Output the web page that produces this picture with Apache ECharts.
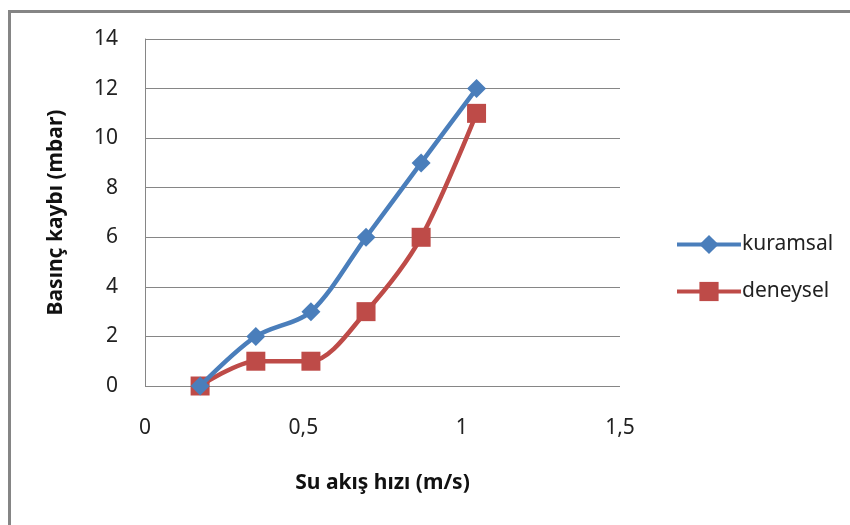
<!DOCTYPE html>
<html>
<head>
<meta charset="utf-8">
<script src="https://cdn.jsdelivr.net/npm/echarts@6/dist/echarts.min.js"></script>
<style>html,body{margin:0;padding:0;background:#fff;}#c{width:850px;height:525px;}</style>
</head>
<body>
<div id="c"></div>
<script>
var velocities = [0.174, 0.350, 0.524, 0.698, 0.872, 1.047];
var kuramsal = [0, 2, 3, 6, 9, 12];
var deneysel = [0, 1, 1, 3, 6, 11];
var seriesNames = ['kuramsal', 'deneysel'];
var xTitle = 'Su akış hızı (m/s)';
var yTitle = 'Basınç kaybı (mbar)';

function pairs(ys) { return velocities.map(function (x, i) { return [x, ys[i]]; }); }
var FONT = 'Noto Sans';
var chart = echarts.init(document.getElementById('c'), null, { renderer: 'canvas' });
chart.setOption({
  backgroundColor: '#ffffff',
  animation: false,
  textStyle: { fontFamily: FONT },
  graphic: [{
    type: 'rect', left: 7, top: 9, z: 100, silent: true,
    shape: { width: 900, height: 600 },
    style: { fill: 'none', stroke: '#858585', lineWidth: 3 }
  }],
  grid: { left: 145, right: 230, top: 39, bottom: 139, containLabel: false },
  legend: {
    orient: 'vertical', left: 670, top: 229, itemGap: 26,
    itemWidth: 64, itemHeight: 24,
    lineStyle: { width: 4 },
    textStyle: { fontFamily: FONT, fontSize: 21, color: '#222', padding: [0, 0, 0, -4] },
    data: seriesNames
  },
  xAxis: {
    type: 'value', min: 0, max: 1.5, interval: 0.5,
    name: xTitle, nameLocation: 'middle', nameGap: 87,
    nameTextStyle: { fontFamily: FONT, fontWeight: 'bold', fontSize: 21, color: '#111' },
    axisLine: { show: false }, axisTick: { show: false },
    splitLine: { show: false },
    axisLabel: { margin: 32, fontSize: 21, color: '#222', formatter: function (v) { return String(v).replace('.', ','); } }
  },
  yAxis: {
    type: 'value', min: 0, max: 14, interval: 2,
    name: yTitle, nameLocation: 'middle', nameGap: 78, nameRotate: 90,
    nameTextStyle: { fontFamily: FONT, fontWeight: 'bold', fontSize: 21, color: '#111' },
    axisLine: { show: true, lineStyle: { color: '#868686', width: 1 } },
    axisTick: { show: false },
    splitLine: { show: true, lineStyle: { color: '#868686', width: 1 } },
    axisLabel: { margin: 27, fontSize: 21, color: '#222' }
  },
  series: [{
    name: seriesNames[0], type: 'line', data: pairs(kuramsal), smooth: 0.3,
    symbol: 'diamond', symbolSize: 19,
    lineStyle: { color: '#4a7ebb', width: 4.5 }, itemStyle: { color: '#4a7ebb' }, z: 3
  }, {
    name: seriesNames[1], type: 'line', data: pairs(deneysel), smooth: 0.3,
    symbol: 'rect', symbolSize: 19,
    lineStyle: { color: '#be4b48', width: 4.5 }, itemStyle: { color: '#be4b48' }, z: 2
  }]
});
</script>
</body>
</html>
